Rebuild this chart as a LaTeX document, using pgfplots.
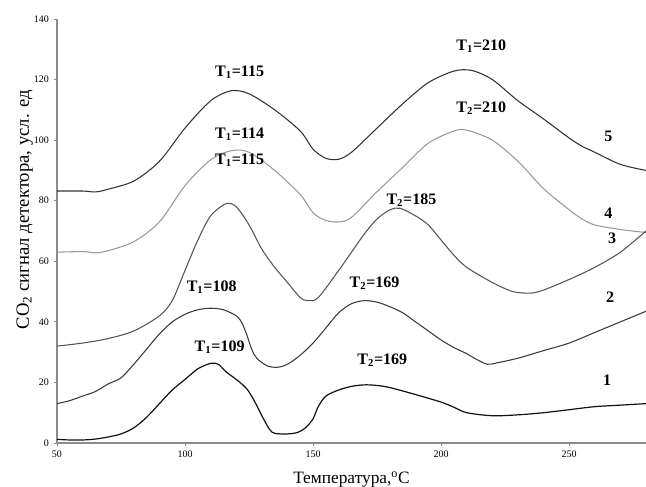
\documentclass[border=0pt]{standalone}
\usepackage{fontspec}
\setmainfont{Liberation Serif}
\usepackage{pgfplots}
\pgfplotsset{compat=1.18}

\definecolor{c5}{HTML}{333333}
\definecolor{c4}{HTML}{9A9A9A}
\definecolor{c3}{HTML}{555555}
\definecolor{c2}{HTML}{3A3A3A}
\definecolor{c1}{HTML}{111111}
\definecolor{axgray}{HTML}{8C8C8C}

\begin{document}
\begin{tikzpicture}
\begin{axis}[
  scale only axis,
  width=441.75pt, height=318pt,
  xmin=50, xmax=280, ymin=0, ymax=140,
  xtick={50,100,150,200,250},
  ytick={0,20,...,140},
  axis x line=bottom, axis y line=left,
  axis line style={-, axgray, line width=1pt},
  tick style={axgray, line width=0.6pt},
  tick align=outside,
  major tick length=2.5pt,
  ticklabel style={font=\fontsize{7.5}{8}\selectfont},
  /pgf/number format/assume math mode=true,
  xlabel={Температура,\textsuperscript{о}С},
  ylabel={CO\textsubscript{2} сигнал детектора, усл. ед},
  xlabel style={font=\fontsize{13}{14}\selectfont, at={(axis description cs:0.5,0)}, anchor=base, yshift=-30pt},
  ylabel style={font=\fontsize{14}{15}\selectfont, at={(axis description cs:-0.055,0.55)}, anchor=center},
  clip=false,
  every axis plot/.append style={smooth, tension=0.5, no marks},
]
% curve 5
\addplot[c5, line width=0.8pt] coordinates {
(50,83.2) (60,83.2) (65,82.9) (70,83.8) (80,86.5) (90,93) (100,104) (110,113) (118,116.3)
(125,115.3) (135,110) (145,103) (150,97) (155,94) (160,93.7) (165,96) (175,104)
(185,112) (195,119) (205,122.8) (212,123) (220,120) (230,113) (240,107) (250,100.7)
(255,98) (260,96) (270,92) (280,90)};
% curve 4
\addplot[c4, line width=0.8pt] coordinates {
(50,63) (60,63.2) (65,62.8) (70,63.5) (80,66.5) (90,73) (100,85) (110,93.5) (118,96.5)
(125,96) (135,90) (145,82) (150,76) (155,73.5) (160,73) (165,74.5) (175,83)
(185,91) (195,99) (205,103) (210,103.3) (220,100) (230,93) (240,84) (250,77)
(255,74) (260,72) (270,70.5) (280,69.5)};
% curve 3
\addplot[c3, line width=0.8pt] coordinates {
(50,32) (60,33) (70,34.5) (80,37) (90,42) (95,47) (100,57) (105,67) (110,75) (116,79)
(120,78) (125,72) (130,64) (135,58) (140,53) (145,48) (148,47) (152,48) (160,57)
(165,63) (170,69) (175,74) (180,77) (184,77.5) (190,75) (195,72) (200,67) (205,62)
(210,58) (220,53) (228,50) (235,49.5) (240,50.5) (250,54) (260,58) (270,63) (280,70)};
% curve 2
\addplot[c2, line width=0.8pt] coordinates {
(50,13) (55,14) (60,15.5) (65,17) (70,19.5) (75,21.5) (80,26) (85,31) (90,36) (95,40)
(100,42.5) (105,44) (110,44.5) (115,44) (120,42) (122,40) (124,36) (126,31) (128,28)
(132,25.5) (136,25) (140,26) (145,29) (150,33) (155,38) (160,43) (165,46) (170,47)
(175,46.5) (180,45) (185,43) (190,40) (195,37) (200,34) (205,31.5) (210,29.5) (213,28)
(218,26) (222,26.5) (230,28) (240,30.5) (250,33) (260,36.5) (270,40) (280,43.5)};
% curve 1
\addplot[c1, line width=0.9pt] coordinates {
(50,1.2) (55,1) (60,1) (65,1.3) (70,2) (75,3) (80,5) (85,8.5) (90,13) (95,17.5) (100,21)
(105,24.5) (110,26.3) (113,26) (116,23.5) (120,21) (124,18) (127,14) (130,9) (133,4.5)
(135,3.2) (140,3) (144,3.5) (147,5) (150,8) (152,12) (155,15.5) (160,17.5) (165,18.7)
(170,19.2) (175,19) (180,18.3) (190,16) (200,13.5) (205,11.8) (210,10) (220,9) (230,9.3)
(240,10) (250,11) (260,12) (270,12.5) (280,13)};

\begin{scope}[every node/.style={font=\fontsize{12}{13}\selectfont\bfseries}]
\node at (axis cs:121.3,122.4) {T\textsubscript{1}=115};
\node at (axis cs:215.7,131) {T\textsubscript{1}=210};
\node at (axis cs:121.3,102) {T\textsubscript{1}=114};
\node at (axis cs:215.7,110.6) {T\textsubscript{2}=210};
\node at (axis cs:121.3,93.4) {T\textsubscript{1}=115};
\node at (axis cs:188.4,80.2) {T\textsubscript{2}=185};
\node at (axis cs:110.4,51.5) {T\textsubscript{1}=108};
\node at (axis cs:174,52.8) {T\textsubscript{2}=169};
\node at (axis cs:113.5,31.7) {T\textsubscript{1}=109};
\node at (axis cs:177,27.4) {T\textsubscript{2}=169};
\node at (axis cs:265.3,101.2) {5};
\node at (axis cs:265.3,76) {4};
\node at (axis cs:266.8,67.7) {3};
\node at (axis cs:266,48.2) {2};
\node at (axis cs:264.8,20.8) {1};
\end{scope}
\end{axis}
\pgfresetboundingbox
\path (-42.75pt,-32.25pt) rectangle (441.75pt,332.25pt);
\end{tikzpicture}
\end{document}
